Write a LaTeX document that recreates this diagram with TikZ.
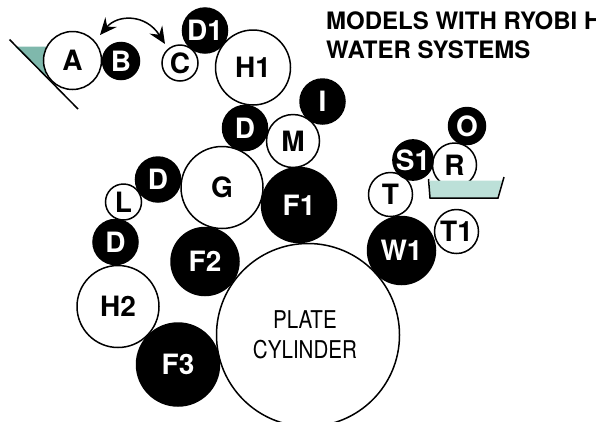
\documentclass[tikz,border=0pt]{standalone}
\usepackage{fontspec}
\setmainfont{TeX Gyre Heros}
\usetikzlibrary{arrows.meta}
\tikzset{
  x=1pt,y=-1pt,
  rollbase/.style={circle,inner sep=0pt,outer sep=0pt,line width=1.5pt,font=\bfseries\fontsize{28}{28}\selectfont},
  whiteroll/.style={rollbase,draw=black,fill=white,text=black},
  blackroll/.style={rollbase,draw=black,fill=black,text=white},
  titletext/.style={anchor=base west,inner sep=0pt,font=\bfseries\fontsize{24}{29}\selectfont},
  swingtip/.tip={Stealth[length=17pt,width=15pt,inset=6pt]},
}
\begin{document}
\begin{tikzpicture}
\useasboundingbox (0,0) rectangle (596,421);
\clip (0,0) rectangle (596,421);
\definecolor{fountA}{HTML}{7FB8AC}
\definecolor{fountB}{HTML}{BCE0D8}
% tray A
\coordinate (p1) at (9.5,39.5);
\coordinate (p2) at (78,109);
\fill[fountA] (15,46.7) -- (50,46.7) -- (46,76) -- cycle;
\draw[line width=1.5pt] (p1) -- (p2);
% tray R
\node[whiteroll,minimum size=44pt] (R) at (454.5,165) {R};
\fill[fountB] (430,180.5) -- (502,180.5) -- (497,198) -- (430,198) -- cycle;
\draw[line width=1.5pt] (428.5,179) -- (430,198) -- (498,198) -- (504,177);
% plate
\node[circle,draw=black,fill=white,line width=1.5pt,minimum size=183pt,inner sep=0pt] (PC) at (308,335) {};
\node[inner sep=0pt,align=center,font=\fontsize{24.5}{30}\selectfont] (PCtext) at ([xshift=-3pt]PC.center) {\scalebox{.84}[1]{PLATE}\\\scalebox{.84}[1]{CYLINDER}};
\node[whiteroll,minimum size=58pt] (A) at (72.5,60.5) {A};
\node[blackroll,minimum size=37pt] (B) at (121,61) {B};
\node[blackroll,minimum size=45pt] (D1) at (205,30.5) {D1};
\node[whiteroll,minimum size=36pt] (C) at (180,63) {C};
\node[whiteroll,minimum size=75pt] (H1) at (253,67.5) {H1};
\node[blackroll,minimum size=45pt] (D2) at (245,128) {D};
\node[whiteroll,minimum size=53pt] (M) at (293,141) {M};
\node[blackroll,minimum size=45pt] (I) at (322.5,101.5) {I};
\node[whiteroll,minimum size=82pt] (G) at (222,187.5) {G};
\node[blackroll,minimum size=75pt] (F1) at (299,205) {F1};
\node[blackroll,minimum size=45pt] (D3) at (158,179.5) {D};
\node[whiteroll,minimum size=36pt] (L) at (123.5,202) {L};
\node[blackroll,minimum size=45pt] (D4) at (115.5,242) {D};
\node[blackroll,minimum size=68pt] (F2) at (205,261.5) {F2};
\node[whiteroll,minimum size=82pt] (H2) at (118,306.5) {H2};
\node[blackroll,minimum size=83pt] (F3) at (178,364.5) {F3};
\node[whiteroll,minimum size=44pt] (T) at (390.5,194.5) {T};
\node[blackroll,minimum size=37pt] (S1) at (413,160) {S1};
\node[blackroll,minimum size=37pt] (O) at (467,126) {O};
\node[whiteroll,minimum size=44pt] (T1) at (456.5,231.5) {T1};
\node[blackroll,minimum size=68pt] (W1) at (401.5,250.5) {W1};
% arrow
\coordinate (a1) at (100,35);
\coordinate (a2) at (165,44);
\draw[line width=1.5pt,swingtip-swingtip] (a1) .. controls (118,14) and (146,14) .. (a2);
\node[titletext] (title1) at (326,29) {MODELS WITH RYOBI H};
\node[titletext] (title2) at (326,58) {WATER SYSTEMS};
\end{tikzpicture}
\end{document}
